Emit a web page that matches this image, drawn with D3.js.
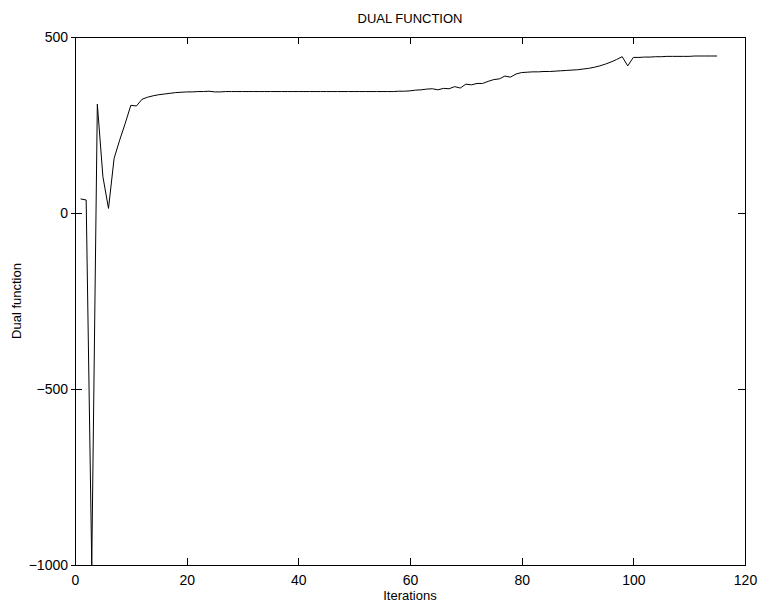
<!DOCTYPE html>
<html>
<head>
<meta charset="utf-8">
<script src="https://cdn.jsdelivr.net/npm/d3@7"></script>
<style>
  body { margin: 0; background: #fff; }
  text { font-family: "Liberation Sans", Arial, sans-serif; fill: #000; }
</style>
</head>
<body>
<script>
// dual function value per iteration
var dualValues = [
  40, 37, -1000, 309, 103, 13, 155, 207, 255, 306,
  304, 323, 329, 333, 336, 338, 340, 342, 343, 344,
  344, 345, 345, 346, 344, 344, 345, 345, 345, 345,
  345, 345, 345, 345, 345, 345, 345, 345, 345, 345,
  345, 345, 345, 345, 345, 345, 345, 345, 345, 345,
  345, 345, 345, 345, 345, 345, 345, 346, 346, 347,
  349, 350, 352, 353, 350, 354, 353, 359, 355, 366,
  364, 368, 368, 374, 379, 381, 389, 386, 395, 399,
  400, 401, 401, 402, 402, 403, 404, 405, 406, 407,
  409, 411, 414, 418, 423, 429, 436, 444, 418, 442,
  442, 443, 443, 444, 444, 445, 445, 445, 445, 445,
  446, 446, 446, 446, 446
];
var xTicks = [0, 20, 40, 60, 80, 100, 120];
var yTicks = [-1000, -500, 0, 500];

var width = 759, height = 605;
var margin = {top: 37, right: 14, bottom: 40, left: 75};
var w = width - margin.left - margin.right,
    h = height - margin.top - margin.bottom;

var svg = d3.select("body").append("svg")
    .attr("width", width)
    .attr("height", height);

var x = d3.scaleLinear().domain([0, 120]).range([0, w]),
    y = d3.scaleLinear().domain([-1000, 500]).range([h, 0]);

var g = svg.append("g")
    .attr("transform", "translate(" + margin.left + "," + margin.top + ")");

var tickLen = 7;

// bottom axis
g.append("g")
    .attr("transform", "translate(0," + h + ")")
    .call(d3.axisBottom(x).tickValues(xTicks).tickSizeInner(-tickLen).tickSizeOuter(0).tickPadding(10))
    .call(function(a) { a.select(".domain").remove(); })
    .selectAll("text").style("font-size", "14px");

// top axis ticks
g.append("g")
    .call(d3.axisTop(x).tickValues(xTicks).tickSizeInner(-tickLen).tickSizeOuter(0).tickFormat(""))
    .call(function(a) { a.select(".domain").remove(); });

// left axis
g.append("g")
    .call(d3.axisLeft(y).tickValues(yTicks).tickSizeInner(-tickLen).tickSizeOuter(0).tickPadding(7)
      .tickFormat(d3.format("d")))
    .call(function(a) { a.select(".domain").remove(); })
    .selectAll("text").style("font-size", "14px").attr("x", -7);

// left outside tick marks
g.append("g")
    .call(d3.axisLeft(y).tickValues(yTicks).tickSizeInner(4).tickSizeOuter(0).tickFormat(""))
    .call(function(a) { a.select(".domain").remove(); });

// right axis ticks
g.append("g")
    .attr("transform", "translate(" + w + ",0)")
    .call(d3.axisRight(y).tickValues(yTicks).tickSizeInner(-tickLen).tickSizeOuter(0).tickFormat(""))
    .call(function(a) { a.select(".domain").remove(); });

g.selectAll(".tick line").attr("stroke", "#000").attr("shape-rendering", "crispEdges");

// box
g.append("rect")
    .attr("width", w)
    .attr("height", h)
    .attr("fill", "none")
    .attr("stroke", "#000")
    .attr("stroke-width", 1)
    .attr("shape-rendering", "crispEdges");

g.append("clipPath").attr("id", "clip")
  .append("rect").attr("width", w).attr("height", h);

var line = d3.line()
    .x(function(d, i) { return x(i + 1); })
    .y(function(d) { return y(d); });

g.append("path")
    .datum(dualValues)
    .attr("clip-path", "url(#clip)")
    .attr("fill", "none")
    .attr("stroke", "#000")
    .attr("stroke-width", 1)
    .attr("d", line);

svg.append("text")
    .attr("x", margin.left + w / 2)
    .attr("y", 23)
    .attr("text-anchor", "middle")
    .style("font-size", "13px")
    .text("DUAL FUNCTION");

svg.append("text")
    .attr("x", margin.left + w / 2)
    .attr("y", 600)
    .attr("text-anchor", "middle")
    .style("font-size", "13px")
    .text("Iterations");

svg.append("text")
    .attr("transform", "translate(21," + (margin.top + h / 2) + ") rotate(-90)")
    .attr("text-anchor", "middle")
    .style("font-size", "13px")
    .text("Dual function");
</script>
</body>
</html>
